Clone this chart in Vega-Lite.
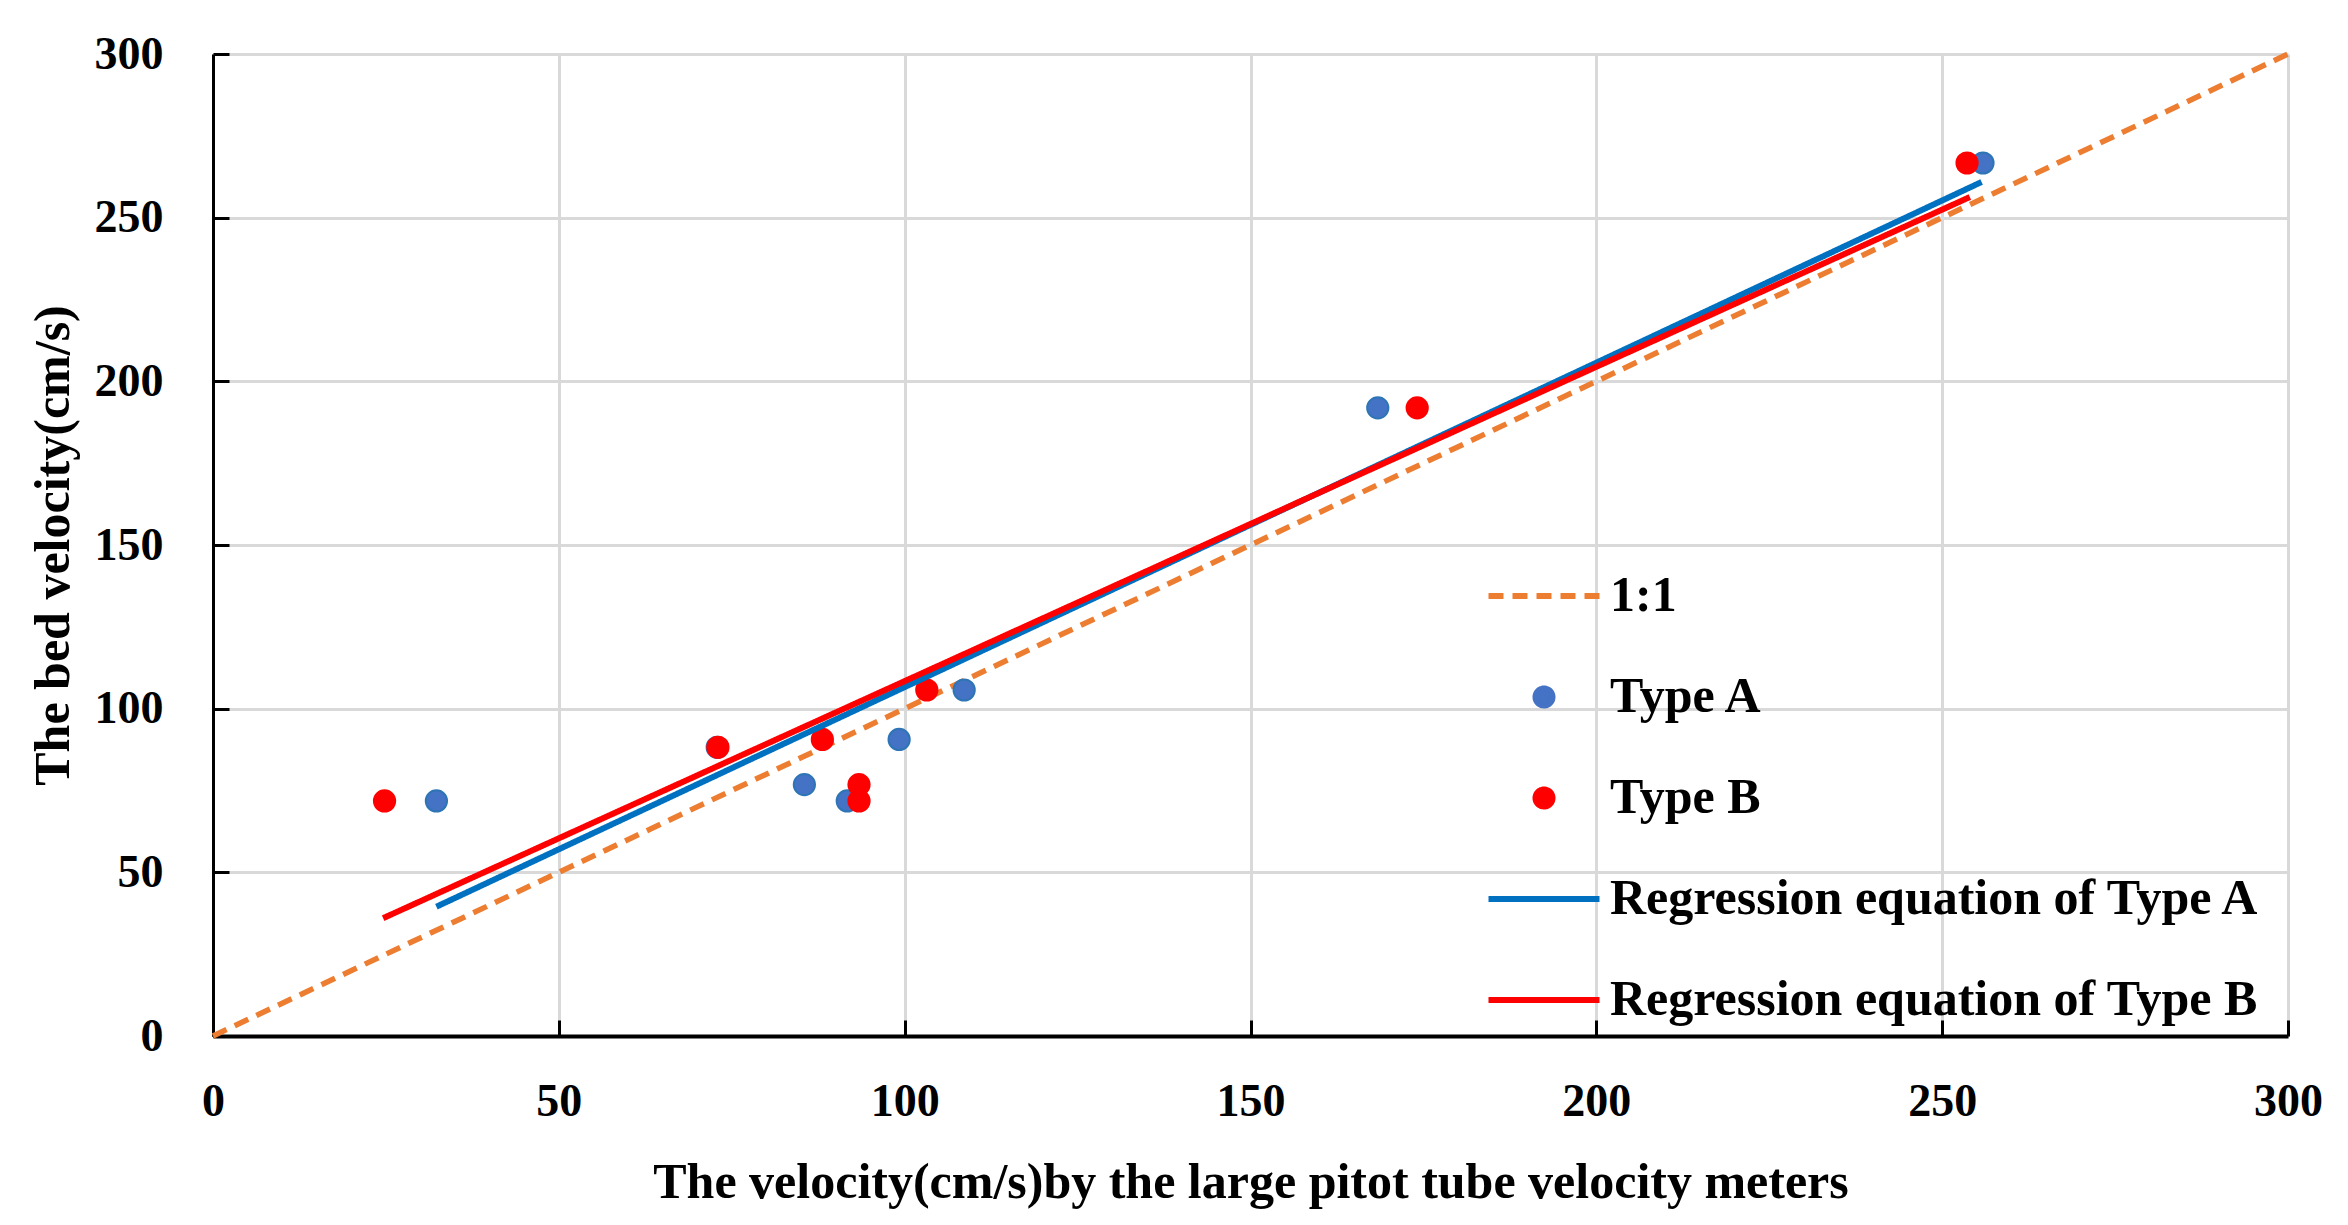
{
  "$schema": "https://vega.github.io/schema/vega-lite/v6.json",
  "description": "Bed velocity vs large pitot tube velocity, Type A and Type B with regression lines",
  "autosize": {"type": "none"},
  "padding": {"left": 213, "top": 54, "right": 60, "bottom": 189},
  "width": 2075,
  "height": 982,
  "background": "white",

  "datasets": {
    "oneToOne": [
      {"series": "1:1", "x": 0, "y": 0},
      {"series": "1:1", "x": 300, "y": 300}
    ],
    "measured": [
      {"series": "Type A", "x": 32.3, "y": 71.8},
      {"series": "Type A", "x": 72.9, "y": 88.2},
      {"series": "Type A", "x": 85.5, "y": 76.8},
      {"series": "Type A", "x": 91.7, "y": 71.8},
      {"series": "Type A", "x": 99.2, "y": 90.6},
      {"series": "Type A", "x": 108.6, "y": 105.7},
      {"series": "Type A", "x": 168.4, "y": 191.9},
      {"series": "Type A", "x": 255.9, "y": 266.7},
      {"series": "Type B", "x": 24.8, "y": 71.8},
      {"series": "Type B", "x": 73.0, "y": 88.2},
      {"series": "Type B", "x": 88.1, "y": 90.6},
      {"series": "Type B", "x": 93.4, "y": 76.8},
      {"series": "Type B", "x": 93.4, "y": 71.8},
      {"series": "Type B", "x": 103.2, "y": 105.7},
      {"series": "Type B", "x": 174.1, "y": 191.9},
      {"series": "Type B", "x": 253.6, "y": 266.7}
    ],
    "fits": [
      {"series": "Regression equation of Type A", "x": 32.3, "y": 39.5},
      {"series": "Regression equation of Type A", "x": 255.7, "y": 260.9},
      {"series": "Regression equation of Type B", "x": 24.6, "y": 36.0},
      {"series": "Regression equation of Type B", "x": 254.0, "y": 256.3}
    ]
  },

  "encoding": {
    "x": {
      "field": "x",
      "type": "quantitative",
      "scale": {"domain": [0, 300], "nice": false},
      "axis": {
        "title": "The velocity(cm/s)by the large pitot tube velocity meters",
        "values": [0, 50, 100, 150, 200, 250, 300],
        "domainWidth": 4,
        "labelPadding": 59,
        "titleY": 146,
        "titleBaseline": "middle"
      }
    },
    "y": {
      "field": "y",
      "type": "quantitative",
      "scale": {"domain": [0, 300], "nice": false},
      "axis": {
        "title": "The bed velocity(cm/s)",
        "values": [0, 50, 100, 150, 200, 250, 300],
        "domainWidth": 3,
        "labelPadding": 66,
        "titleX": -160,
        "titleY": 491,
        "titleAngle": -90,
        "titleBaseline": "middle"
      }
    },
    "color": {
      "field": "series",
      "type": "nominal",
      "scale": {
        "domain": ["1:1", "Type A", "Type B", "Regression equation of Type A", "Regression equation of Type B"],
        "range": ["#ED7D31", "#4472C4", "#FF0000", "#0070C0", "#FF0000"]
      },
      "legend": {"title": null}
    }
  },

  "layer": [
    {
      "data": {"name": "oneToOne"},
      "mark": {"type": "line", "strokeWidth": 5.5},
      "encoding": {
        "strokeDash": {
          "field": "series",
          "type": "nominal",
          "scale": {
            "domain": ["1:1", "Type A", "Type B", "Regression equation of Type A", "Regression equation of Type B"],
            "range": [[15, 9], [1, 0], [1, 0], [1, 0], [1, 0]]
          },
          "legend": {"title": null}
        }
      }
    },
    {
      "data": {"name": "measured"},
      "mark": {
        "type": "point",
        "filled": true,
        "opacity": 1,
        "size": 3900,
        "strokeWidth": 2,
        "stroke": {"expr": "datum.series === 'Type A' ? '#2E75B6' : '#FF0000'"}
      },
      "encoding": {
        "shape": {
          "field": "series",
          "type": "nominal",
          "scale": {
            "domain": ["1:1", "Type A", "Type B", "Regression equation of Type A", "Regression equation of Type B"],
            "range": [
              "M -2.22 0 L 2.22 0",
              "M -0.34 0 A 0.34 0.34 0 1 0 0.34 0 A 0.34 0.34 0 1 0 -0.34 0 Z",
              "M -0.34 0 A 0.34 0.34 0 1 0 0.34 0 A 0.34 0.34 0 1 0 -0.34 0 Z",
              "M -2.22 0 L 2.22 0",
              "M -2.22 0 L 2.22 0"
            ]
          },
          "legend": {"title": null}
        }
      }
    },
    {
      "data": {"name": "fits"},
      "mark": {"type": "line", "strokeWidth": 6},
      "encoding": {
        "strokeDash": {
          "field": "series",
          "type": "nominal",
          "scale": {
            "domain": ["1:1", "Type A", "Type B", "Regression equation of Type A", "Regression equation of Type B"],
            "range": [[15, 9], [1, 0], [1, 0], [1, 0], [1, 0]]
          },
          "legend": {"title": null}
        }
      }
    }
  ],

  "config": {
    "view": {"stroke": null},
    "axis": {
      "grid": true,
      "gridColor": "#D9D9D9",
      "gridWidth": 3,
      "domainColor": "#000000",
      "tickColor": "#000000",
      "tickWidth": 3,
      "tickSize": -16,
      "labelFont": "Liberation Serif",
      "labelFontSize": 46,
      "labelFontWeight": "bold",
      "labelColor": "#000000",
      "labelFlush": false,
      "labelOverlap": false,
      "titleFont": "Liberation Serif",
      "titleFontSize": 50,
      "titleFontWeight": "bold",
      "titleColor": "#000000"
    },
    "legend": {
      "orient": "none",
      "legendX": 1303,
      "legendY": 514,
      "padding": 0,
      "symbolSize": 2500,
      "symbolStrokeWidth": 6,
      "symbolOpacity": 1,
      "labelOffset": 38,
      "rowPadding": 48,
      "labelLimit": 1000,
      "labelFont": "Liberation Serif",
      "labelFontSize": 50,
      "labelFontWeight": "bold",
      "labelColor": "#000000"
    }
  }
}
